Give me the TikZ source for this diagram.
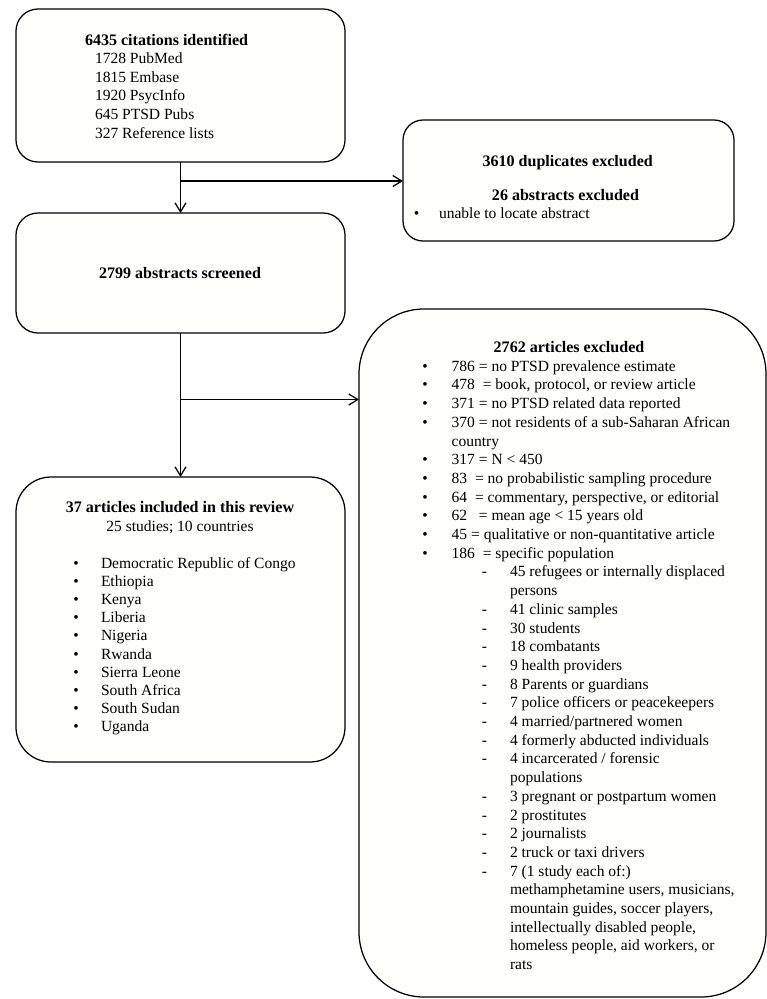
\documentclass[tikz,border=0pt]{standalone}
\usepackage{fontspec}
\setmainfont{Liberation Serif}
\usetikzlibrary{arrows.meta,calc}
\definecolor{boxfill}{RGB}{254,254,251}
\newcommand\fs{\fontsize{15.6}{18.7}\selectfont}
\newcommand\fb{\fontsize{16.1}{18.7}\selectfont\bfseries}
\newcommand\bigy[1]{371.2+#1*18.7}
\newcommand\bitem[3]{%
  \node[txt,anchor=base] (#1b) at (425,{\bigy{#2}}) {•};
  \node[txt,anchor=base west] (#1) at (451.7,{\bigy{#2}}) {#3};}
\newcommand\ditem[3]{%
  \node[txt,anchor=base] (#1d) at (484.5,{\bigy{#2}}) {-};
  \node[txt,anchor=base west] (#1) at (510,{\bigy{#2}}) {#3};}
\begin{document}
\begin{tikzpicture}[x=1bp,y=-1bp,
  txt/.style={inner sep=0pt,outer sep=0pt,font=\fs},
  hd/.style={inner sep=0pt,outer sep=0pt,font=\fb},
  box/.style={draw=black,line width=1.25bp,fill=boxfill,inner sep=0pt,outer sep=0pt},
  arr/.style={draw=black,line width=1.25bp,-{Straight Barb[length=9bp,width=11bp,line width=1.25bp]}}]
\useasboundingbox (0,0) rectangle (767,999);
\fill[white] (0,0) rectangle (767,999);
% boxes
\node[box,rounded corners=22bp,minimum width=329bp,minimum height=153bp] (b1) at (180.5,85.5) {};
\node[box,rounded corners=20bp,minimum width=331bp,minimum height=121bp] (dup) at (568.5,180.5) {};
\node[box,rounded corners=22bp,minimum width=329bp,minimum height=120bp] (b2) at (180.5,273) {};
\node[box,rounded corners=35bp,minimum width=329bp,minimum height=285bp] (b3) at (180.5,619.5) {};
\node[box,rounded corners=65bp,minimum width=407bp,minimum height=688bp] (big) at (562.5,653) {};
% connectors
\coordinate (j1) at (180.5,181);
\coordinate (j2) at (180.5,399.5);
\draw[arr] (b1.south) -- (b2.north);
\draw[arr] (j1) -- (j1 -| dup.west);
\draw[arr] (b2.south) -- (b3.north);
\draw[arr] (j2) -- (j2 -| big.west);
% box 1
\node[hd,anchor=base west] (t1h) at (85,45) {6435 citations identified};
\node[txt,anchor=base west] (t1a) at (95,63.6) {1728 PubMed};
\node[txt,anchor=base west] (t1b) at (95,82.2) {1815 Embase};
\node[txt,anchor=base west] (t1c) at (95,100.8) {1920 PsycInfo};
\node[txt,anchor=base west] (t1d) at (95,119.4) {645 PTSD Pubs};
\node[txt,anchor=base west] (t1e) at (95,138) {327 Reference lists};
% duplicates box
\node[hd,anchor=base] (d1) at (567.7,166.7) {3610 duplicates excluded};
\node[hd,anchor=base] (d2) at (565.5,200) {26 abstracts excluded};
\node[txt,anchor=base] (d3b) at (416.7,218) {•};
\node[txt,anchor=base west] (d3) at (439,218) {unable to locate abstract};
% box 2
\node[hd,anchor=base] (s1) at (180,278) {2799 abstracts screened};
% box 3
\node[hd,anchor=base] (i1) at (180,512.7) {37 articles included in this review};
\node[txt,anchor=base] (i2) at (180,531) {25 studies; 10 countries};
\foreach \c [count=\k from 0] in {Democratic Republic of Congo,Ethiopia,Kenya,Liberia,Nigeria,Rwanda,Sierra Leone,South Africa,South Sudan,Uganda}{
  \node[txt,anchor=base] (cb\k) at (76,{568.3+\k*18.15}) {•};
  \node[txt,anchor=base west] (c\k) at (101,{568.3+\k*18.15}) {\c};
}
% big box
\node[hd,anchor=base] (e) at (569,352.5) {2762 articles excluded};
\bitem{e0}{0}{786 = no PTSD prevalence estimate}
\bitem{e1}{1}{478 \ = book, protocol, or review article}
\bitem{e2}{2}{371 = no PTSD related data reported}
\bitem{e3}{3}{370 = not residents of a sub-Saharan African}
\node[txt,anchor=base west] (e3c) at (451.7,{\bigy{4}}) {country};
\bitem{e5}{5}{317 = N < 450}
\bitem{e6}{6}{83 \ = no probabilistic sampling procedure}
\bitem{e7}{7}{64 \ = commentary, perspective, or editorial}
\bitem{e8}{8}{62 \ \ = mean age < 15 years old}
\bitem{e9}{9}{45 = qualitative or non-quantitative article}
\bitem{e10}{10}{186 \ = specific population}
\ditem{f11}{11}{45 refugees or internally displaced}
\node[txt,anchor=base west] (f12) at (510,{\bigy{12}}) {persons};
\ditem{f13}{13}{41 clinic samples}
\ditem{f14}{14}{30 students}
\ditem{f15}{15}{18 combatants}
\ditem{f16}{16}{9 health providers}
\ditem{f17}{17}{8 Parents or guardians}
\ditem{f18}{18}{7 police officers or peacekeepers}
\ditem{f19}{19}{4 married/partnered women}
\ditem{f20}{20}{4 formerly abducted individuals}
\ditem{f21}{21}{4 incarcerated / forensic}
\node[txt,anchor=base west] (f22) at (510,{\bigy{22}}) {populations};
\ditem{f23}{23}{3 pregnant or postpartum women}
\ditem{f24}{24}{2 prostitutes}
\ditem{f25}{25}{2 journalists}
\ditem{f26}{26}{2 truck or taxi drivers}
\ditem{f27}{27}{7 (1 study each of:)}
\node[txt,anchor=base west] (f28) at (510,{\bigy{28}}) {methamphetamine users, musicians,};
\node[txt,anchor=base west] (f29) at (510,{\bigy{29}}) {mountain guides, soccer players,};
\node[txt,anchor=base west] (f30) at (510,{\bigy{30}}) {intellectually disabled people,};
\node[txt,anchor=base west] (f31) at (510,{\bigy{31}}) {homeless people, aid workers, or};
\node[txt,anchor=base west] (f32) at (510,{\bigy{32}}) {rats};
\end{tikzpicture}
\end{document}
